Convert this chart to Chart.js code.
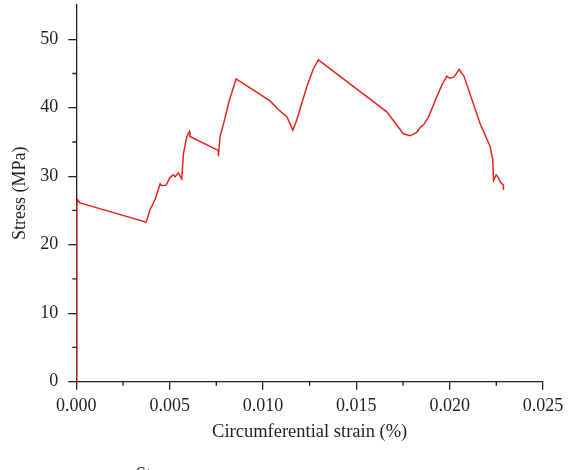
<!DOCTYPE html>
<html>
<head>
<meta charset="utf-8">
<script src="https://cdn.jsdelivr.net/npm/chart.js@4.4.1/dist/chart.umd.min.js"></script>
<style>
  html, body { margin: 0; padding: 0; background: #fff; overflow: hidden; }
  #wrap { width: 571px; height: 470px; position: relative; }
</style>
</head>
<body>
<div id="wrap"><canvas id="c" width="571" height="470"></canvas></div>
<script>
// Circumferential strain (%) and stress (MPa) of the specimen
const strain = [0, 0.00001, 0.00002, 0.00003, 0.00005, 0.0002, 0.00374, 0.00395, 0.00422, 0.00449,
  0.00458, 0.00481, 0.00502, 0.0052, 0.00529, 0.00547, 0.00556, 0.00565, 0.00574, 0.00592,
  0.00606, 0.00609, 0.00743, 0.00761, 0.00761, 0.0077, 0.00792, 0.0082, 0.00856, 0.01038,
  0.01083, 0.01128, 0.0116, 0.01181, 0.01235, 0.0127, 0.01297, 0.01663, 0.01752, 0.01788,
  0.01824, 0.01842, 0.0186, 0.01886, 0.01931, 0.01958, 0.01985, 0.01999, 0.02024, 0.02051,
  0.02065, 0.02074, 0.02163, 0.02217, 0.02231, 0.02235, 0.02249, 0.02261, 0.0227, 0.02288, 0.02288];
const stress = [0, 8, 18, 25.5, 26.6, 26.1, 23.3, 25.1, 26.6, 28.9,
  28.6, 28.7, 29.8, 30.2, 29.9, 30.5, 30.0, 29.6, 33.3, 35.8,
  36.5, 35.8, 34.0, 33.8, 32.9, 35.8, 38.0, 41.1, 44.2, 41.0,
  39.7, 38.7, 36.7, 38.2, 43.1, 45.7, 47.0, 39.4, 36.2, 35.9,
  36.4, 37.1, 37.5, 38.6, 41.6, 43.3, 44.6, 44.3, 44.5, 45.6,
  45.0, 44.8, 37.7, 34.3, 32.4, 29.4, 30.2, 29.8, 29.2, 28.7, 28.0];

const xTicks = [0, 0.005, 0.010, 0.015, 0.020, 0.025];
const xMinorTicks = [0.0025, 0.0075, 0.0125, 0.0175, 0.0225];
const yTicks = [0, 10, 20, 30, 40, 50];
const yMinorTicks = [5, 15, 25, 35, 45];

const xTitle = 'Circumferential strain (%)';
const yTitle = 'Stress (MPa)';
const footText = 'Stress';

const FONT = '"Liberation Serif", "DejaVu Serif", serif';
const INK = '#231f20';
const RED = '#e3261d';

// short half-step ticks on both axes
const minorTicks = {
  id: 'minorTicks',
  afterDraw(chart) {
    const { ctx, chartArea, scales: { x, y } } = chart;
    ctx.save();
    ctx.strokeStyle = INK;
    ctx.lineWidth = 1.3;
    ctx.beginPath();
    for (const v of xMinorTicks) {
      const px = x.getPixelForValue(v);
      ctx.moveTo(px, chartArea.bottom);
      ctx.lineTo(px, chartArea.bottom + 4);
    }
    for (const v of yMinorTicks) {
      const py = y.getPixelForValue(v);
      ctx.moveTo(chartArea.left, py);
      ctx.lineTo(chartArea.left - 4, py);
    }
    ctx.stroke();
    ctx.restore();
  }
};

// caption line along the bottom edge
const footer = {
  id: 'footer',
  afterDraw(chart) {
    const ctx = chart.ctx;
    ctx.save();
    ctx.fillStyle = INK;
    ctx.font = '18px ' + FONT;
    ctx.textBaseline = 'top';
    ctx.textAlign = 'left';
    ctx.fillText(footText, 136, 466.5);
    ctx.restore();
  }
};

new Chart(document.getElementById('c'), {
  type: 'scatter',
  data: {
    datasets: [{
      data: strain.map((s, i) => ({ x: s, y: stress[i] })),
      showLine: true,
      borderColor: RED,
      borderWidth: 1.5,
      pointRadius: 0,
      tension: 0,
      fill: false
    }]
  },
  options: {
    responsive: false,
    animation: false,
    layout: { padding: { top: 5, right: 28, bottom: 0, left: 0 } },
    plugins: { legend: { display: false }, tooltip: { enabled: false } },
    scales: {
      x: {
        type: 'linear',
        min: 0,
        max: 0.025,
        afterBuildTicks: (s) => { s.ticks = xTicks.map(v => ({ value: v })); },
        afterFit: (s) => { s.height = 88.3; s.paddingLeft = 0; s.paddingRight = 0; },
        ticks: {
          color: INK,
          padding: 6,
          maxRotation: 0,
          autoSkip: false,
          font: { family: FONT, size: 18 },
          callback: (v) => Number(v).toFixed(3)
        },
        grid: { display: true, drawOnChartArea: false, drawTicks: true, tickLength: 8, color: INK, lineWidth: 1.3 },
        border: { display: true, color: INK, width: 1.3 },
        title: {
          display: true,
          text: xTitle,
          color: INK,
          font: { family: FONT, size: 18.5 },
          padding: { top: 0, bottom: 27 }
        }
      },
      y: {
        type: 'linear',
        min: 0,
        max: 55,
        afterBuildTicks: (s) => { s.ticks = yTicks.map(v => ({ value: v })); },
        afterFit: (s) => { s.width = 76.3; s.paddingTop = 0; s.paddingBottom = 0; },
        ticks: {
          color: INK,
          padding: 10,
          autoSkip: false,
          font: { family: FONT, size: 18 },
          callback: (v) => String(v)
        },
        grid: { display: true, drawOnChartArea: false, drawTicks: true, tickLength: 8, color: INK, lineWidth: 1.3 },
        border: { display: true, color: INK, width: 1.3 },
        title: {
          display: true,
          text: yTitle,
          color: INK,
          font: { family: FONT, size: 18 },
          padding: { top: 9, bottom: 0 }
        }
      }
    }
  },
  plugins: [minorTicks, footer]
});
</script>
</body>
</html>
